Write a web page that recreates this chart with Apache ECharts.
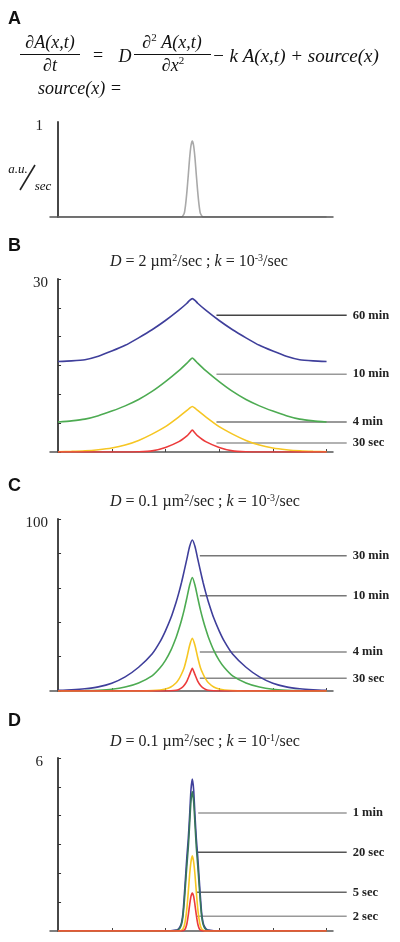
<!DOCTYPE html>
<html><head><meta charset="utf-8">
<script src="https://cdn.jsdelivr.net/npm/echarts@6/dist/echarts.min.js"></script>
<style>html,body{margin:0;padding:0;background:#fff}#c{width:400px;height:942px}</style>
</head><body><div id="c"></div>
<script>
// ---------- DATA ----------
const xTicks = [1, 2, 3, 4, 5];

// Panel A: source(x)
const xA = [0, 2, 2.3, 2.35, 2.375, 2.4, 2.425, 2.45, 2.475, 2.5, 2.525, 2.55, 2.575, 2.6, 2.625, 2.65, 2.7, 3, 5];
const sourceA = [0, 0, 0, 0.04, 0.13, 0.27, 0.44, 0.62, 0.75, 0.8, 0.75, 0.62, 0.44, 0.27, 0.13, 0.04, 0, 0, 0];

// Panel B: D = 2, k = 1e-3
const xB = [0, 0.25, 0.5, 0.75, 1, 1.25, 1.5, 1.75, 2, 2.25, 2.4, 2.45, 2.5, 2.55, 2.6, 2.75, 3, 3.25, 3.5, 3.75, 4, 4.25, 4.5, 4.75, 5];
const b60min = [15.7, 15.8, 16.0, 16.6, 17.5, 18.5, 19.8, 21.2, 22.8, 24.6, 25.8, 26.3, 26.6, 26.3, 25.8, 24.6, 22.8, 21.2, 19.8, 18.5, 17.5, 16.6, 16.0, 15.8, 15.7];
const b10min = [5.2, 5.4, 5.7, 6.3, 7.1, 8.0, 9.1, 10.5, 12.2, 14.1, 15.4, 15.9, 16.3, 15.9, 15.4, 14.1, 12.2, 10.5, 9.1, 8.0, 7.1, 6.3, 5.7, 5.4, 5.2];
const b4min = [0.05, 0.1, 0.2, 0.4, 0.7, 1.2, 2.0, 3.1, 4.4, 6.1, 7.2, 7.6, 7.9, 7.6, 7.2, 6.1, 4.4, 3.1, 2.0, 1.2, 0.7, 0.4, 0.2, 0.1, 0.05];
const b30sec = [0, 0, 0, 0, 0, 0, 0.05, 0.2, 0.8, 1.8, 2.8, 3.3, 3.8, 3.3, 2.8, 1.8, 0.8, 0.2, 0.05, 0, 0, 0, 0, 0, 0];

// Panel C: D = 0.1, k = 1e-3
const xC = [0, 0.25, 0.5, 0.75, 1, 1.25, 1.5, 1.75, 1.9, 2, 2.1, 2.2, 2.25, 2.3, 2.35, 2.4, 2.45, 2.5, 2.55, 2.6, 2.65, 2.7, 2.75, 2.8, 2.9, 3, 3.1, 3.25, 3.5, 3.75, 4, 4.25, 4.5, 4.75, 5];
const c30min = [0.35, 0.7, 1.3, 2.4, 4.5, 8.2, 13.8, 21.5, 28.7, 35, 42.4, 51.8, 57.2, 63.2, 70, 77, 84, 87.8, 84, 77, 70, 63.2, 57.2, 51.8, 42.4, 35, 28.7, 21.5, 13.8, 8.2, 4.5, 2.4, 1.3, 0.7, 0.35];
const c10min = [0.05, 0.1, 0.2, 0.45, 1.0, 2.3, 4.7, 8.8, 13.5, 17.8, 23.6, 31.3, 36, 41.3, 47.3, 54.3, 61.5, 66, 61.5, 54.3, 47.3, 41.3, 36, 31.3, 23.6, 17.8, 13.5, 8.8, 4.7, 2.3, 1.0, 0.45, 0.2, 0.1, 0.05];
const c4min = [0, 0, 0, 0, 0, 0, 0.04, 0.2, 0.55, 1.15, 2.3, 4.8, 6.9, 9.9, 13.7, 19.6, 26.5, 30.6, 26.5, 19.6, 13.7, 9.9, 6.9, 4.8, 2.3, 1.15, 0.55, 0.2, 0.04, 0, 0, 0, 0, 0, 0];
const c30sec = [0, 0, 0, 0, 0, 0, 0, 0, 0, 0.03, 0.15, 0.45, 0.9, 1.8, 3.4, 5.8, 9.5, 13.2, 9.5, 5.8, 3.4, 1.8, 0.9, 0.45, 0.15, 0.03, 0, 0, 0, 0, 0, 0, 0, 0, 0];

// Panel D: D = 0.1, k = 1e-1
const xD = [0, 1, 1.5, 2, 2.1, 2.2, 2.225, 2.25, 2.275, 2.3, 2.325, 2.35, 2.375, 2.4, 2.425, 2.45, 2.475, 2.5, 2.525, 2.55, 2.575, 2.6, 2.625, 2.65, 2.675, 2.7, 2.725, 2.75, 2.775, 2.8, 2.9, 3, 3.5, 4, 5];
const d1min = [0, 0, 0, 0, 0.01, 0.03, 0.05, 0.09, 0.16, 0.3, 0.6, 1.2, 1.9, 2.6, 3.2, 4.0, 4.9, 5.27, 4.9, 4.0, 3.2, 2.6, 1.9, 1.2, 0.6, 0.3, 0.16, 0.09, 0.05, 0.03, 0.01, 0, 0, 0, 0];
const d20sec = [0, 0, 0, 0, 0, 0.02, 0.03, 0.06, 0.12, 0.24, 0.5, 1.0, 1.65, 2.3, 2.9, 3.7, 4.5, 4.84, 4.5, 3.7, 2.9, 2.3, 1.65, 1.0, 0.5, 0.24, 0.12, 0.06, 0.03, 0.02, 0, 0, 0, 0, 0];
const d5sec = [0, 0, 0, 0, 0, 0, 0, 0, 0.01, 0.03, 0.07, 0.18, 0.42, 0.8, 1.35, 1.95, 2.4, 2.61, 2.4, 1.95, 1.35, 0.8, 0.42, 0.18, 0.07, 0.03, 0.01, 0, 0, 0, 0, 0, 0, 0, 0];
const d2sec = [0, 0, 0, 0, 0, 0, 0, 0, 0, 0, 0.01, 0.03, 0.1, 0.26, 0.55, 0.9, 1.2, 1.32, 1.2, 0.9, 0.55, 0.26, 0.1, 0.03, 0.01, 0, 0, 0, 0, 0, 0, 0, 0, 0, 0];

// Leader labels (y in data units of each panel)
const labelsB = ['60 min', '10 min', '4 min', '30 sec'];
const leaderYB = [23.7, 13.5, 5.2, 1.55];
const labelsC = ['30 min', '10 min', '4 min', '30 sec'];
const leaderYC = [78.7, 55.4, 22.7, 7.4];
const labelsD = ['1 min', '20 sec', '5 sec', '2 sec'];
const leaderYD = [4.09, 2.73, 1.34, 0.51];

// ---------- STYLE ----------
const SERIF = '"Liberation Serif","Times New Roman",serif';
const SANS = '"Liberation Sans",Arial,sans-serif';
const BLUE = '#3f3f9b', GREEN = '#4dab52', YELLOW = '#f6c623', RED = '#ec3b3b', DGREEN = '#37775a', GRAY = '#a9a9a9';

const gridDefs = [
  {top: 122, height: 95},
  {top: 279, height: 173},
  {top: 519, height: 172},
  {top: 758, height: 173}
];
const yMax = [1, 30, 100, 6];
const yInt = [1, 5, 20, 1];
const yMargin = [7, 2, 2, 7];

const grid = gridDefs.map(g => ({left: 50, right: 67, top: g.top, height: g.height, containLabel: false}));
const xAxis = gridDefs.map((g, i) => ({
  type: 'value', gridIndex: i, min: -0.15, max: 5.12, z: i === 0 ? 5 : 0,
  axisLine: {show: true, onZero: true, lineStyle: {color: '#555', width: 1.5}},
  axisTick: {show: i > 0, inside: true, length: 3, customValues: xTicks, lineStyle: {color: '#444', width: 1}},
  axisLabel: {show: false},
  splitLine: {show: false}
}));
const yAxis = gridDefs.map((g, i) => ({
  type: 'value', gridIndex: i, min: 0, max: yMax[i], interval: yInt[i],
  axisLine: {show: true, onZero: true, lineStyle: {color: '#333', width: 1.8}},
  axisTick: {show: i > 0, inside: true, length: 3, lineStyle: {color: '#333', width: 1}},
  axisLabel: {show: true, customValues: [yMax[i]], margin: yMargin[i], verticalAlign: 'top', lineHeight: 9,
    fontFamily: SERIF, fontSize: 15, color: '#222'},
  splitLine: {show: false}
}));

function ser(i, xs, ys, color, name) {
  return {
    type: 'line', name, xAxisIndex: i, yAxisIndex: i,
    data: xs.map((x, k) => [x, ys[k]]),
    showSymbol: false, symbol: 'none', smooth: 0.2,
    lineStyle: {color, width: 1.6}, itemStyle: {color},
    silent: true, animation: false, z: 2
  };
}

const series = [
  ser(0, xA, sourceA, GRAY, 'source'),
  ser(1, xB, b60min, BLUE, '60 min'),
  ser(1, xB, b10min, GREEN, '10 min'),
  ser(1, xB, b4min, YELLOW, '4 min'),
  ser(1, xB, b30sec, RED, '30 sec'),
  ser(2, xC, c30min, BLUE, '30 min'),
  ser(2, xC, c10min, GREEN, '10 min'),
  ser(2, xC, c4min, YELLOW, '4 min'),
  ser(2, xC, c30sec, RED, '30 sec'),
  ser(3, xD, d1min, BLUE, '1 min'),
  ser(3, xD, d20sec, DGREEN, '20 sec'),
  ser(3, xD, d5sec, YELLOW, '5 sec'),
  ser(3, xD, d2sec, RED, '2 sec')
];

const chart = echarts.init(document.getElementById('c'), null, {renderer: 'canvas'});
chart.setOption({animation: false, backgroundColor: '#fff', grid, xAxis, yAxis, series});

// ---------- ANNOTATIONS ----------
const g = [];
function txt(x, y, text, opts) {
  g.push({type: 'text', x, y, silent: true, style: Object.assign({
    text, fontFamily: SERIF, fontSize: 18, fontStyle: 'italic', fill: '#111',
    align: 'left', verticalAlign: 'middle'}, opts || {})});
}
function ln(x1, y1, x2, y2, stroke, w) {
  g.push({type: 'line', silent: true, shape: {x1, y1, x2, y2}, style: {stroke, lineWidth: w || 1}});
}
const supRich = {s: {fontSize: 11, fontFamily: SERIF, fontStyle: 'normal', fill: '#111', lineHeight: 11, verticalAlign: 'top'}};

// panel letters
[['A', 19], ['B', 246], ['C', 486], ['D', 721]].forEach(([t, y]) =>
  txt(8, y, t, {fontFamily: SANS, fontStyle: 'normal', fontWeight: 'bold', fontSize: 18, fill: '#111'}));

// equation
txt(50, 43, '\u2202A(x,t)', {align: 'center'});
ln(20, 54.5, 80, 54.5, '#111', 1);
txt(50, 66, '\u2202t', {align: 'center'});
txt(98, 56, '=', {align: 'center', fontStyle: 'normal'});
txt(125, 57, 'D', {align: 'center'});
txt(172, 43, '\u2202{s|2} A(x,t)', {align: 'center', lineHeight: 20, rich: supRich});
ln(134, 54.5, 211, 54.5, '#111', 1);
txt(173, 66, '\u2202x{s|2}', {align: 'center', lineHeight: 20, rich: supRich});
txt(212, 57, '\u2212 k A(x,t) + source(x)', {fontSize: 19});
txt(38, 89, 'source(x) =');

// a.u./sec
txt(18, 170, 'a.u.', {align: 'center', fontSize: 13});
ln(20, 190, 35, 165, '#222', 1.6);
txt(43, 187, 'sec', {align: 'center', fontSize: 13});

// panel titles
const titleRich = {
  i: {fontFamily: SERIF, fontSize: 16, fontStyle: 'italic', fill: '#222', lineHeight: 18},
  s: {fontFamily: SERIF, fontSize: 10, fill: '#222', lineHeight: 10, verticalAlign: 'top'}
};
const tStyle = {fontSize: 16, fontStyle: 'normal', fill: '#222', lineHeight: 18, rich: titleRich};
txt(110, 262, '{i|D} = 2 \u00b5m{s|2}/sec ; {i|k} = 10{s|-3}/sec', tStyle);
txt(110, 502, '{i|D} = 0.1 \u00b5m{s|2}/sec ; {i|k} = 10{s|-3}/sec', tStyle);
txt(110, 742, '{i|D} = 0.1 \u00b5m{s|2}/sec ; {i|k} = 10{s|-1}/sec', tStyle);

// leader lines + labels
function leaders(gi, xStart, ys, labels, colors) {
  ys.forEach((y, k) => {
    const p1 = chart.convertToPixel({gridIndex: gi}, [xStart[k], y]);
    const p2 = chart.convertToPixel({gridIndex: gi}, [5.375, y]);
    ln(p1[0], p1[1], p2[0], p2[1], colors[k], 1.5);
    txt(p2[0] + 6, p2[1], labels[k], {fontSize: 12.5, fontStyle: 'normal', fontWeight: 'bold', fill: '#222'});
  });
}
leaders(1, [2.95, 2.95, 2.95, 2.95], leaderYB, labelsB, ['#444', '#999', '#777', '#999']);
leaders(2, [2.64, 2.64, 2.64, 2.64], leaderYC, labelsC, ['#777', '#777', '#888', '#888']);
leaders(3, [2.61, 2.58, 2.58, 2.58], leaderYD, labelsD, ['#999', '#555', '#666', '#999']);

chart.setOption({graphic: {elements: g}});
</script></body></html>
